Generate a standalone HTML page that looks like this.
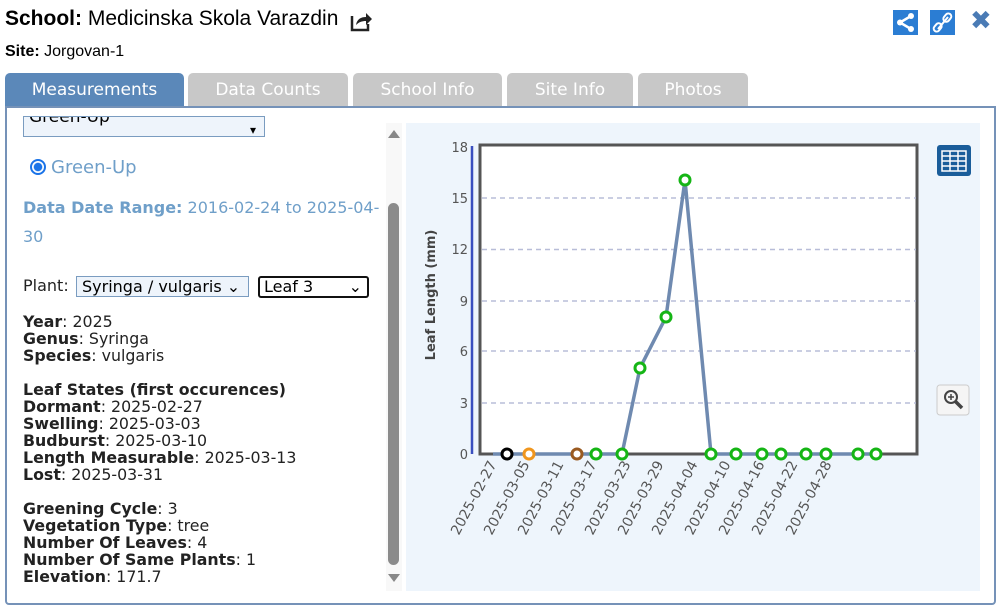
<!DOCTYPE html><html><head><style>
body{margin:0;width:1000px;height:608px;background:#fff;font-family:"DejaVu Sans",Verdana,sans-serif;position:relative;overflow:hidden}
.a{position:absolute;white-space:nowrap}
.tab{position:absolute;top:73px;height:34px;background:#c8c8c8;color:#fff;font-size:17px;text-align:center;line-height:34px;border-radius:5px 5px 0 0}
.l{position:absolute;left:23px;font-size:15.8px;color:#222;line-height:17px}
.l b{color:#222}
</style></head><body>
<div class="a" style="left:5px;top:7px;font-family:'Liberation Sans',sans-serif;font-size:21px"><b>School:</b> Medicinska Skola Varazdin</div>
<svg class="a" style="left:350px;top:10px" width="24" height="22" viewBox="0 0 24 22"><path d="M2 6v14h16v-6" fill="none" stroke="#222" stroke-width="2.5"/><path d="M6 15c1-6 5-8 10-8v-4l6 6-6 6v-4c-4 0-7 1-10 4z" fill="#222"/></svg>
<div class="a" style="left:5px;top:43px;font-family:'Liberation Sans',sans-serif;font-size:16px"><b>Site:</b> Jorgovan-1</div>
<div class="a" style="left:893px;top:10px;width:25px;height:25px;background:#2b7dd3"><svg width="25" height="25"><path d="M18 6L7 12.5L18 19" fill="none" stroke="#fff" stroke-width="2.5"/><circle cx="18" cy="6" r="3" fill="#fff"/><circle cx="7" cy="12.5" r="3" fill="#fff"/><circle cx="18" cy="19" r="3" fill="#fff"/></svg></div>
<div class="a" style="left:930px;top:10px;width:25px;height:25px;background:#2b7dd3"><svg width="25" height="25"><path d="M8 19l10-12" stroke="#fff" stroke-width="2"/><rect x="5" y="13" width="6" height="9" rx="3" transform="rotate(40 8 17)" fill="none" stroke="#fff" stroke-width="2"/><rect x="14" y="3" width="6" height="9" rx="3" transform="rotate(40 17 8)" fill="none" stroke="#fff" stroke-width="2"/></svg></div>
<div class="a" style="left:970px;top:6px;font-size:26px;color:#4a7bb5;font-weight:bold">✖</div>
<div class="tab" style="left:5px;width:179px;background:#5b88b9">Measurements</div>
<div class="tab" style="left:188px;width:160px">Data Counts</div>
<div class="tab" style="left:353px;width:149px">School Info</div>
<div class="tab" style="left:507px;width:126px">Site Info</div>
<div class="tab" style="left:638px;width:110px">Photos</div>
<div class="a" style="left:5px;top:106px;width:987px;height:495px;border:2px solid #7592b8;border-radius:0 0 4px 4px"></div>
<div class="a" style="left:23px;top:116px;width:240px;height:19px;border:1px solid #7a9cc0;background:#eef4fb;overflow:hidden"><div style="margin-top:-10px;font-size:17px;padding-left:5px">Green-Up<span style="position:absolute;right:8px;top:6px;font-size:12px">▾</span></div></div>
<div class="a" style="left:30px;top:159px;width:12px;height:12px;border-radius:50%;border:2px solid #1a73e8;background:radial-gradient(#1a73e8 45%,#fff 55%)"></div>
<div class="a" style="left:51px;top:157px;font-size:18px;color:#6f9fc9">Green-Up</div>
<div class="a" style="left:23px;top:193px;font-size:16px;color:#6f9fc9;line-height:29px"><b>Data Date Range:</b> 2016-02-24 to 2025-04-<br>30</div>
<div class="a" style="left:23px;top:276px;font-size:16px;color:#222">Plant:</div>
<div class="a" style="left:76px;top:276px;width:173px;height:21px;border:1px solid #7a9cc0;background:#eef4fb;font-size:16px;padding-left:5px;box-sizing:border-box;line-height:19px">Syringa / vulgaris ⌄</div>
<div class="a" style="left:258px;top:276px;width:111px;height:22px;border:2px solid #111;border-radius:3px;font-size:16px;padding-left:4px;box-sizing:border-box;line-height:18px">Leaf 3 <span style="float:right;padding-right:5px">⌄</span></div>
<div class="l" style="top:313px"><b>Year</b>: 2025<br><b>Genus</b>: Syringa<br><b>Species</b>: vulgaris<br><br><b>Leaf States (first occurences)</b><br><b>Dormant</b>: 2025-02-27<br><b>Swelling</b>: 2025-03-03<br><b>Budburst</b>: 2025-03-10<br><b>Length Measurable</b>: 2025-03-13<br><b>Lost</b>: 2025-03-31<br><br><b>Greening Cycle</b>: 3<br><b>Vegetation Type</b>: tree<br><b>Number Of Leaves</b>: 4<br><b>Number Of Same Plants</b>: 1<br><b>Elevation</b>: 171.7</div>
<div class="a" style="left:386px;top:123px;width:16px;height:468px;background:#f8f8f8"></div>
<div class="a" style="left:388px;top:130px;width:0;height:0;border:6px solid transparent;border-bottom:8px solid #888;border-top:0"></div>
<div class="a" style="left:388px;top:574px;width:0;height:0;border:6px solid transparent;border-top:8px solid #888;border-bottom:0"></div>
<div class="a" style="left:388px;top:203px;width:11px;height:362px;background:#8b8b8b;border-radius:6px"></div>
<div class="a" style="left:406px;top:123px;width:574px;height:468px;background:#eef5fc"></div>
<svg class="a" style="left:0;top:0" width="1000" height="608" font-family="DejaVu Sans,Verdana,sans-serif">
<rect x="480" y="145" width="437" height="309" fill="#fff" stroke="#555" stroke-width="3"/>
<g stroke="#b8bdd8" stroke-dasharray="5,4" stroke-width="1.5">
<line x1="482" x2="916" y1="198" y2="198"/><line x1="482" x2="916" y1="249.5" y2="249.5"/><line x1="482" x2="916" y1="301" y2="301"/><line x1="482" x2="916" y1="351" y2="351"/><line x1="482" x2="916" y1="403" y2="403"/></g>
<line x1="472" y1="146" x2="472" y2="454" stroke="#3a4fbf" stroke-width="2.5"/>
<g font-size="13" fill="#555" text-anchor="end">
<text x="468" y="152">18</text><text x="468" y="203">15</text><text x="468" y="254">12</text><text x="468" y="306">9</text><text x="468" y="356">6</text><text x="468" y="408">3</text><text x="468" y="459">0</text></g>
<text transform="translate(435,295) rotate(-90)" text-anchor="middle" font-size="13" font-weight="bold" fill="#444">Leaf Length (mm)</text>
<g font-size="14" fill="#555" text-anchor="end">
<text transform="translate(497,464) rotate(-62)">2025-02-27</text>
<text transform="translate(530,464) rotate(-62)">2025-03-05</text>
<text transform="translate(564,464) rotate(-62)">2025-03-11</text>
<text transform="translate(597,464) rotate(-62)">2025-03-17</text>
<text transform="translate(631,464) rotate(-62)">2025-03-23</text>
<text transform="translate(664,464) rotate(-62)">2025-03-29</text>
<text transform="translate(698,464) rotate(-62)">2025-04-04</text>
<text transform="translate(731,464) rotate(-62)">2025-04-10</text>
<text transform="translate(765,464) rotate(-62)">2025-04-16</text>
<text transform="translate(798,464) rotate(-62)">2025-04-22</text>
<text transform="translate(832,464) rotate(-62)">2025-04-28</text></g>
<polyline points="493,454 515,454 554,454 596,454 622,454 640,368 666,317 685,180 711,454 736,454 762,454 781,454 806,454 826,454 858,454 876,454" fill="none" stroke="#6f8ab0" stroke-width="3.5"/>
<g fill="#fff" stroke-width="3"><circle cx="507" cy="454" r="5" stroke="#000"/><circle cx="529" cy="454" r="5" stroke="#f0961e"/><circle cx="577" cy="454" r="5" stroke="#9a5a20"/><g stroke="#15b515"><circle cx="596" cy="454" r="5"/><circle cx="622" cy="454" r="5"/><circle cx="640" cy="368" r="5"/><circle cx="666" cy="317" r="5"/><circle cx="685" cy="180" r="5"/><circle cx="711" cy="454" r="5"/><circle cx="736" cy="454" r="5"/><circle cx="762" cy="454" r="5"/><circle cx="781" cy="454" r="5"/><circle cx="806" cy="454" r="5"/><circle cx="826" cy="454" r="5"/><circle cx="858" cy="454" r="5"/><circle cx="876" cy="454" r="5"/></g></g>
<rect x="937" y="145" width="34" height="31" rx="3" fill="#1a5d9a"/>
<g stroke="#fff" stroke-width="1.5" fill="none"><rect x="942" y="151" width="24" height="20"/><line x1="942" y1="156" x2="966" y2="156"/><line x1="942" y1="161" x2="966" y2="161"/><line x1="942" y1="166" x2="966" y2="166"/><line x1="950" y1="151" x2="950" y2="171"/><line x1="958" y1="151" x2="958" y2="171"/></g>
<rect x="937" y="385" width="32" height="30" rx="3" fill="#f5f5f5" stroke="#ccc"/>
<circle cx="951" cy="397" r="6" fill="none" stroke="#444" stroke-width="2"/><line x1="955" y1="401" x2="962" y2="408" stroke="#444" stroke-width="3.5"/><path d="M948 397h6M951 394v6" stroke="#444" stroke-width="1.5"/>
</svg>
</body></html>
